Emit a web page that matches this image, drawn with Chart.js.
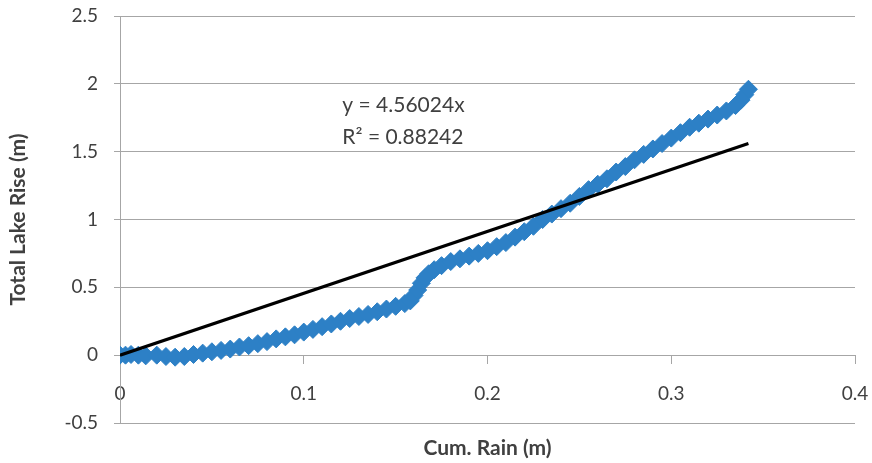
<!DOCTYPE html>
<html>
<head>
<meta charset="utf-8">
<script src="https://cdn.jsdelivr.net/npm/chart.js@4/dist/chart.umd.min.js"></script>
<style>
  html, body { margin: 0; padding: 0; background: #ffffff; }
  #wrap { width: 872px; height: 463px; position: relative; }
</style>
</head>
<body>
<div id="wrap"><canvas id="c" width="872" height="463"></canvas></div>
<script>
// ---- Data ----
const rainX = [0, 0.003, 0.006, 0.01, 0.014, 0.02, 0.025, 0.03, 0.035, 0.04, 0.045, 0.05, 0.055, 0.06, 0.065, 0.07,
  0.075, 0.08, 0.085, 0.09, 0.095, 0.1, 0.105, 0.11, 0.115, 0.12, 0.125, 0.13, 0.135, 0.14, 0.145, 0.15, 0.155, 0.158,
  0.16, 0.162, 0.164, 0.166, 0.168, 0.171, 0.175, 0.18, 0.185, 0.19, 0.195, 0.2, 0.205, 0.21, 0.215, 0.22, 0.225,
  0.23, 0.235, 0.24, 0.245, 0.25, 0.255, 0.26, 0.265, 0.27, 0.275, 0.28, 0.285, 0.29, 0.295, 0.3, 0.305, 0.31,
  0.315, 0.32, 0.325, 0.33, 0.335, 0.338, 0.34, 0.342];
const lakeRise = [0, 0.0, 0.005, 0.0, -0.005, 0.0, -0.01, -0.015, -0.01, 0.005, 0.015, 0.025, 0.035, 0.045, 0.06, 0.07,
  0.085, 0.10, 0.12, 0.135, 0.15, 0.17, 0.19, 0.21, 0.23, 0.25, 0.27, 0.285, 0.30, 0.32, 0.34, 0.36, 0.38, 0.40,
  0.44, 0.48, 0.53, 0.57, 0.60, 0.63, 0.66, 0.69, 0.71, 0.73, 0.75, 0.77, 0.80, 0.83, 0.87, 0.91, 0.95,
  1.0, 1.04, 1.08, 1.12, 1.17, 1.22, 1.26, 1.30, 1.35, 1.39, 1.44, 1.48, 1.52, 1.56, 1.60, 1.64, 1.68,
  1.71, 1.74, 1.77, 1.80, 1.84, 1.88, 1.92, 1.96];
const trendX = [0, 0.342];
const trendY = [0, 1.5596];
const xTicks = [0, 0.1, 0.2, 0.3, 0.4];
const yTicks = [-0.5, 0, 0.5, 1, 1.5, 2, 2.5];
const trendLabel = ['y = 4.56024x', 'R\u00B2 = 0.88242'];
const trendLabelAt = { x: 0.121, y: 1.84 };

const FONT = 'Lato, "Open Sans", "Liberation Sans", sans-serif';
const TXT = '#404040';
const GRID = '#a6a6a6';
const BLUE = '#2d80c6';

const labelPlugin = {
  id: 'trendLabel',
  afterDatasetsDraw(chart) {
    const { ctx, scales } = chart;
    const px = scales.x.getPixelForValue(trendLabelAt.x);
    const py = scales.y.getPixelForValue(trendLabelAt.y);
    ctx.save();
    ctx.font = '21px ' + FONT;
    ctx.fillStyle = TXT;
    ctx.textAlign = 'left';
    ctx.textBaseline = 'middle';
    trendLabel.forEach((t, i) => ctx.fillText(t, px, py + i * 32));
    ctx.restore();
  }
};

function noOverhang(s) {
  s.paddingTop = 0; s.paddingBottom = 0; s.paddingLeft = 0; s.paddingRight = 0;
}

new Chart(document.getElementById('c'), {
  type: 'scatter',
  data: {
    datasets: [
      {
        label: 'Trend',
        type: 'line',
        data: trendX.map((x, i) => ({ x, y: trendY[i] })),
        borderColor: '#000000',
        borderWidth: 3.2,
        pointRadius: 0,
        fill: false,
        order: 0
      },
      {
        label: 'Lake rise',
        data: rainX.map((x, i) => ({ x, y: lakeRise[i] })),
        pointStyle: 'rectRot',
        pointRadius: 9,
        backgroundColor: BLUE,
        borderColor: BLUE,
        borderWidth: 1,
        order: 1
      }
    ]
  },
  options: {
    responsive: false,
    animation: false,
    layout: { padding: { top: 16, right: 17, left: 0, bottom: 0 } },
    plugins: { legend: { display: false }, tooltip: { enabled: false } },
    scales: {
      x: {
        type: 'linear',
        min: 0, max: 0.4,
        position: { y: 0 },
        afterBuildTicks: s => { s.ticks = xTicks.map(v => ({ value: v })); },
        afterFit: noOverhang,
        grid: { display: true, drawOnChartArea: false, drawTicks: true, tickLength: 8, color: GRID, lineWidth: 1 },
        border: { display: true, color: GRID, width: 1 },
        ticks: { font: { family: FONT, size: 19 }, color: TXT, padding: 19, maxRotation: 0,
          callback: v => String(v) }
      },
      x2: {
        type: 'linear',
        axis: 'x',
        min: 0, max: 0.4,
        position: 'bottom',
        grid: { display: false },
        border: { display: false },
        ticks: { display: false },
        title: { display: true, text: 'Cum. Rain (m)', color: TXT,
          font: { family: FONT, size: 21, weight: 'bold' }, padding: { top: 8, bottom: 2 } },
        afterFit: s => { s.height = 40; noOverhang(s); }
      },
      y: {
        type: 'linear',
        min: -0.5, max: 2.5,
        afterBuildTicks: s => { s.ticks = yTicks.map(v => ({ value: v })); },
        grid: { color: GRID, lineWidth: 1, drawTicks: true, tickLength: 6 },
        border: { display: true, color: GRID, width: 1 },
        ticks: { font: { family: FONT, size: 19 }, color: TXT, padding: 16, callback: v => String(v) },
        title: { display: true, text: 'Total Lake Rise (m)', color: TXT,
          font: { family: FONT, size: 21, weight: 'bold' }, padding: { top: 6, bottom: 0 } },
        afterFit: s => { s.width = 120; noOverhang(s); }
      }
    }
  },
  plugins: [labelPlugin]
});
</script>
</body>
</html>
